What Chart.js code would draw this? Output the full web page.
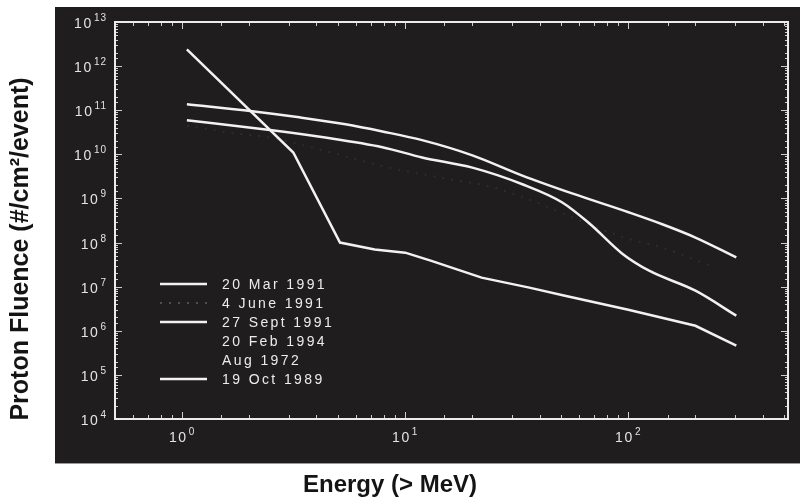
<!DOCTYPE html>
<html>
<head>
<meta charset="utf-8">
<script src="https://cdn.jsdelivr.net/npm/chart.js@4.4.1/dist/chart.umd.min.js"></script>
<style>
  html, body { margin: 0; padding: 0; background: #ffffff; }
  canvas { display: block; }
</style>
</head>
<body>
<canvas id="chart" width="800" height="499"></canvas>
<script>
// Integral proton fluence spectra of large solar particle events
const seriesLabels = ['20 Mar 1991', '4 June 1991', '27 Sept 1991', '20 Feb 1994', 'Aug 1972', '19 Oct 1989'];

// 20 Mar 1991
const energyMar91 = [1.05, 3.15, 5.1, 7.3, 10, 13, 22, 36, 52, 100, 200, 305];
const fluenceMar91 = [2.4e12, 1.1e10, 1.0e8, 7.0e7, 5.9e7, 3.9e7, 1.6e7, 9.5e6, 6.2e6, 3.0e6, 1.3e6, 4.6e5];

// 4 June 1991
const energyJun91 = [1.05, 1.73, 2.36, 8.8, 14.2, 25.6, 96, 141, 232];
const fluenceJun91 = [4.4e10, 3.0e10, 2.5e10, 4.8e9, 3.0e9, 1.7e9, 1.3e8, 7.8e7, 3.0e7];

// 27 Sept 1991
const energySep91 = [1.05, 2.53, 4.38, 7.9, 11.9, 20, 33.5, 50.6, 67, 94, 124, 200, 305];
const fluenceSep91 = [5.9e10, 3.5e10, 2.4e10, 1.45e10, 8.5e9, 5.0e9, 2.1e9, 8.1e8, 2.7e8, 5.6e7, 2.3e7, 8.1e6, 2.2e6];

// 19 Oct 1989
const energyOct89 = [1.05, 2.06, 3.35, 5.4, 7.9, 11.9, 20, 33.5, 56, 101, 142, 200, 305];
const fluenceOct89 = [1.37e11, 9.5e10, 6.9e10, 4.8e10, 3.3e10, 2.1e10, 9.5e9, 3.3e9, 1.3e9, 4.8e8, 2.6e8, 1.3e8, 4.6e7];

// Axis ranges and titles
const energyRange = [0.5, 520];
const fluenceRange = [1e4, 1e13];
const xTitle = 'Energy (> MeV)';
const yTitle = 'Proton Fluence (#/cm\u00B2/event)';

const FONT = "'Liberation Sans', Arial, Helvetica, sans-serif";
const PANEL = '#1f1d1e';
const INK = '#ececec';

const toPoints = (xs, ys) => xs.map((x, i) => ({ x: x, y: ys[i] }));

function isDecade(v) {
  const l = Math.log10(v);
  return Math.abs(l - Math.round(l)) < 1e-6;
}

// "10" with a raised exponent; (x, y) is the anchor, align is 'right' or 'center'
function drawPower(ctx, exp, x, baseY, supY, align) {
  ctx.letterSpacing = '1.6px';
  ctx.font = '14px ' + FONT;
  const wb = ctx.measureText('10').width;
  ctx.font = '10px ' + FONT;
  ctx.letterSpacing = '1px';
  const we = ctx.measureText(exp).width;
  const total = wb + 1 + we;
  const x0 = align === 'right' ? x - total : x - total / 2;
  ctx.textAlign = 'left';
  ctx.textBaseline = 'alphabetic';
  ctx.letterSpacing = '1.6px';
  ctx.font = '14px ' + FONT;
  ctx.fillText('10', x0, baseY);
  ctx.letterSpacing = '1px';
  ctx.font = '10px ' + FONT;
  ctx.fillText(exp, x0 + wb + 1, supY);
}

// Dark panel behind the plot, white page around it
const panelPlugin = {
  id: 'panel',
  beforeDraw(chart) {
    const ctx = chart.ctx;
    ctx.save();
    ctx.fillStyle = '#ffffff';
    ctx.fillRect(0, 0, chart.width, chart.height);
    ctx.fillStyle = PANEL;
    ctx.fillRect(55, 7, chart.width - 55, 456);
    ctx.fillStyle = '#9a9a9a';
    ctx.fillRect(55, 463, chart.width - 55, 1);
    ctx.restore();
  }
};

// Box frame, inward tick marks, decade labels, legend and axis titles
const decorPlugin = {
  id: 'decor',
  afterDatasetsDraw(chart) {
    const ctx = chart.ctx;
    const a = chart.chartArea;
    const xs = chart.scales.x, ys = chart.scales.y;
    ctx.save();

    // tick marks
    ctx.strokeStyle = '#cfcfcf';
    ctx.lineWidth = 1;
    ctx.beginPath();
    xs.ticks.forEach(t => {
      const px = Math.round(xs.getPixelForValue(t.value)) + 0.5;
      if (px <= a.left + 1 || px >= a.right - 1) return;
      const len = isDecade(t.value) ? 7 : 4;
      ctx.moveTo(px, a.bottom); ctx.lineTo(px, a.bottom - len);
      ctx.moveTo(px, a.top); ctx.lineTo(px, a.top + len);
    });
    ys.ticks.forEach(t => {
      const py = Math.round(ys.getPixelForValue(t.value)) + 0.5;
      if (py <= a.top + 1 || py >= a.bottom - 1) return;
      const len = isDecade(t.value) ? 7 : 3;
      ctx.moveTo(a.left, py); ctx.lineTo(a.left + len, py);
      ctx.moveTo(a.right, py); ctx.lineTo(a.right - len, py);
    });
    ctx.stroke();

    // frame
    ctx.strokeStyle = INK;
    ctx.lineWidth = 2;
    ctx.strokeRect(a.left, a.top, a.right - a.left, a.bottom - a.top);

    // decade labels
    ctx.fillStyle = '#e4e4e4';
    xs.ticks.forEach(t => {
      if (!isDecade(t.value)) return;
      const px = xs.getPixelForValue(t.value);
      const exp = String(Math.round(Math.log10(t.value)));
      drawPower(ctx, exp, px, a.bottom + 23, a.bottom + 16, 'center');
    });
    ys.ticks.forEach(t => {
      if (!isDecade(t.value)) return;
      const py = ys.getPixelForValue(t.value);
      const exp = String(Math.round(Math.log10(t.value)));
      drawPower(ctx, exp, a.left - 8, py + 6, py - 1, 'right');
    });

    // legend
    const lx0 = a.left + 45, lx1 = a.left + 92, tx = a.left + 107;
    const ly0 = 284, step = 19;
    ctx.textBaseline = 'middle';
    ctx.textAlign = 'left';
    chart.data.datasets.forEach((ds, i) => {
      const y = ly0 + i * step;
      ctx.save();
      ctx.strokeStyle = ds.legendColor || ds.borderColor;
      ctx.lineWidth = ds.borderWidth;
      ctx.setLineDash(ds.borderDash || []);
      ctx.beginPath();
      ctx.moveTo(lx0, y); ctx.lineTo(lx1, y);
      ctx.stroke();
      ctx.restore();
      ctx.fillStyle = INK;
      ctx.font = '14px ' + FONT;
      ctx.letterSpacing = '2.4px';
      ctx.fillText(ds.label, tx, y + 1);
    });

    // axis titles
    ctx.letterSpacing = '0px';
    ctx.fillStyle = '#141414';
    ctx.font = 'bold 24px ' + FONT;
    ctx.textAlign = 'center';
    ctx.textBaseline = 'middle';
    ctx.fillText(xTitle, 390, 485);
    ctx.save();
    ctx.translate(21, 249);
    ctx.rotate(-Math.PI / 2);
    ctx.font = 'bold 25px ' + FONT;
    ctx.fillText(yTitle, 0, 0);
    ctx.restore();
    ctx.restore();
  }
};

const lineStyle = (label, pts, extra) => Object.assign({
  label: label,
  data: pts,
  borderColor: '#f2f2f2',
  borderWidth: 2.5,
  pointRadius: 0,
  fill: false,
  tension: 0
}, extra || {});

const datasets = [
  lineStyle(seriesLabels[0], toPoints(energyMar91, fluenceMar91)),
  lineStyle(seriesLabels[1], toPoints(energyJun91, fluenceJun91), {
    borderColor: 'rgba(255,255,255,0.07)', legendColor: 'rgba(255,255,255,0.22)',
    borderWidth: 2, borderDash: [2, 7], cubicInterpolationMode: 'monotone'
  }),
  lineStyle(seriesLabels[2], toPoints(energySep91, fluenceSep91), { cubicInterpolationMode: 'monotone' }),
  lineStyle(seriesLabels[3], [], { borderColor: PANEL }),
  lineStyle(seriesLabels[4], [], { borderColor: PANEL }),
  lineStyle(seriesLabels[5], toPoints(energyOct89, fluenceOct89), { cubicInterpolationMode: 'monotone' })
];

new Chart(document.getElementById('chart'), {
  type: 'line',
  data: { datasets: datasets },
  options: {
    responsive: false,
    animation: false,
    devicePixelRatio: 1,
    layout: { padding: { left: 55, top: 22, right: 12, bottom: 0 } },
    plugins: { legend: { display: false }, tooltip: { enabled: false } },
    scales: {
      x: {
        type: 'logarithmic',
        min: energyRange[0],
        max: energyRange[1],
        grid: { display: false, drawTicks: false },
        border: { display: false },
        ticks: { display: false, autoSkip: false },
        afterFit: s => { s.height = 80; }
      },
      y: {
        type: 'logarithmic',
        min: fluenceRange[0],
        max: fluenceRange[1],
        grid: { display: false, drawTicks: false },
        border: { display: false },
        ticks: { display: false, autoSkip: false },
        afterFit: s => { s.width = 60; }
      }
    }
  },
  plugins: [panelPlugin, decorPlugin]
});
</script>
</body>
</html>
